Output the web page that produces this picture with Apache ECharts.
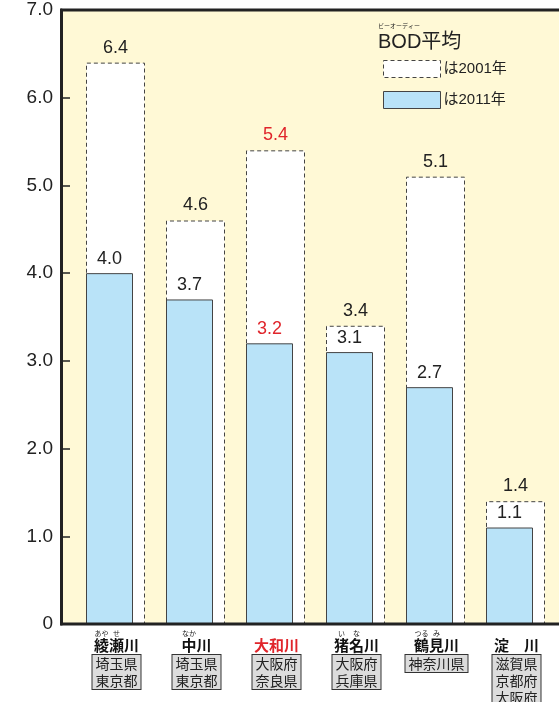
<!DOCTYPE html>
<html>
<head>
<meta charset="utf-8">
<script src="https://cdn.jsdelivr.net/npm/echarts@6/dist/echarts.min.js"></script>
<style>html,body{margin:0;padding:0;background:#fff;}#c{width:559px;height:702px;}</style>
</head>
<body>
<div id="c"></div>
<script>
const categories = ['綾瀬川', '中川', '大和川', '猪名川', '鶴見川', '淀　川'];
const furigana = [['あや', 'せ', '　'], ['なか', '　'], ['　', '　', '　'], ['い', 'な', '　'], ['つる', 'み', '　'], ['　', '　', '　']];
const prefectures = [['埼玉県', '東京都'], ['埼玉県', '東京都'], ['大阪府', '奈良県'], ['大阪府', '兵庫県'], ['神奈川県'], ['滋賀県', '京都府', '大阪府']];
const bod2001 = [6.4, 4.6, 5.4, 3.4, 5.1, 1.4];
const bod2011 = [4.0, 3.7, 3.2, 3.1, 2.7, 1.1];
const yTicks = ['0', '1.0', '2.0', '3.0', '4.0', '5.0', '6.0', '7.0'];
const highlightIndex = 2;

const RED = '#e0252b';
const INK = '#222';
const LATIN = '"Liberation Sans", "Noto Sans CJK JP", sans-serif';
const JP = '"Noto Sans CJK JP", sans-serif';

function mkData(vals) {
  return vals.map((v, i) => i === highlightIndex ? { value: v, label: { color: RED } } : v);
}

const chart = echarts.init(document.getElementById('c'));
chart.setOption({
  animation: false,
  backgroundColor: '#fff',
  graphic: [
    { type: 'rect', z: -10, silent: true, shape: { x: 61, y: 10, width: 498, height: 614 }, style: { fill: '#fff9d6' } },
    { type: 'line', z: 100, silent: true, shape: { x1: 60, y1: 10, x2: 559, y2: 10 }, style: { stroke: INK, lineWidth: 3 } },
    { type: 'line', z: 100, silent: true, shape: { x1: 60, y1: 624, x2: 559, y2: 624 }, style: { stroke: INK, lineWidth: 3 } }
  ],
  title: {
    left: 378, top: 22, padding: 0,
    text: '{r|ビーオーディー}\n{t|BOD平均}',
    textStyle: {
      fontWeight: 'normal',
      rich: {
        r: { fontSize: 6, lineHeight: 8, color: INK, fontFamily: JP, fontWeight: 'normal' },
        t: { fontSize: 20, lineHeight: 24, color: INK, fontFamily: LATIN, fontWeight: 'normal' }
      }
    }
  },
  legend: {
    left: 383, top: 60, orient: 'vertical', itemWidth: 57, itemHeight: 17, itemGap: 13, padding: 0,
    icon: 'rect',
    formatter: 'は{name}',
    textStyle: { fontSize: 15, color: INK, fontFamily: LATIN, padding: [0, 0, 0, -2] },
    data: [
      { name: '2001年', itemStyle: { color: '#fff', borderColor: '#444', borderWidth: 1, borderType: [4, 3] } },
      { name: '2011年', itemStyle: { color: '#b9e3f8', borderColor: '#444', borderWidth: 1 } }
    ]
  },
  grid: [
    { left: 69.5, right: 9.5, top: 10, bottom: 78, outerBoundsMode: 'none', containLabel: false },
    { left: 76.5, right: 2.5, top: 10, bottom: 78, outerBoundsMode: 'none', containLabel: false }
  ],
  xAxis: [
    {
      type: 'category', gridIndex: 0, data: categories,
      axisLine: { show: false }, axisTick: { show: false }, axisLabel: { show: false }
    },
    {
      type: 'category', gridIndex: 1, data: categories, position: 'bottom',
      axisLine: { show: false }, axisTick: { show: false },
      axisLabel: {
        interval: 0, margin: 5,
        formatter: function (v, i) {
          const f = furigana[i].map(s => '{f|' + s + '}').join('');
          const nameStyle = i === highlightIndex ? 'nr' : 'n';
          return f + '\n{' + nameStyle + '|' + v + '}';
        },
        rich: {
          f: { fontSize: 7, width: 15, align: 'center', lineHeight: 9, color: INK, fontFamily: JP },
          n: { fontSize: 15, fontWeight: 'bold', lineHeight: 15, color: '#111', fontFamily: JP },
          nr: { fontSize: 15, fontWeight: 'bold', lineHeight: 15, color: RED, fontFamily: JP }
        }
      }
    },
    {
      type: 'category', gridIndex: 1, data: categories, position: 'bottom',
      axisLine: { show: false }, axisTick: { show: false },
      axisLabel: {
        interval: 0, margin: 31,
        formatter: function (v, i) { return prefectures[i].join('\n'); },
        fontSize: 14, lineHeight: 17, color: INK, fontFamily: JP,
        backgroundColor: '#dcdcdc', borderColor: '#333', borderWidth: 1, padding: [0, 3]
      }
    }
  ],
  yAxis: [
    {
      type: 'value', gridIndex: 0, min: 0, max: 7, interval: 1, offset: 8.5,
      axisLine: { show: true, lineStyle: { color: INK, width: 3 } },
      axisTick: { show: true, inside: true, length: 9, lineStyle: { color: INK, width: 1.5 } },
      splitLine: { show: false },
      axisLabel: {
        margin: 8, fontSize: 19, color: INK, fontFamily: LATIN,
        formatter: function (v) { return yTicks[Math.round(v)]; }
      }
    },
    { type: 'value', gridIndex: 1, show: false }
  ],
  series: [
    {
      name: '2001年', type: 'bar', xAxisIndex: 0, yAxisIndex: 0,
      barWidth: 59, barGap: '-100%',
      data: mkData(bod2001),
      itemStyle: { color: '#fff', borderColor: '#444', borderWidth: 1, borderType: [4, 3] },
      label: { show: true, position: 'top', distance: 6, fontSize: 18, color: INK, fontFamily: LATIN, formatter: p => p.value.toFixed(1) }
    },
    {
      name: '2011年', type: 'bar', xAxisIndex: 0, yAxisIndex: 0,
      barWidth: 47, barGap: '-100%',
      data: mkData(bod2011),
      itemStyle: { color: '#b9e3f8', borderColor: '#444', borderWidth: 1 },
      label: { show: true, position: 'top', distance: 5, fontSize: 18, color: INK, fontFamily: LATIN, formatter: p => p.value.toFixed(1) }
    }
  ]
});
</script>
</body>
</html>
